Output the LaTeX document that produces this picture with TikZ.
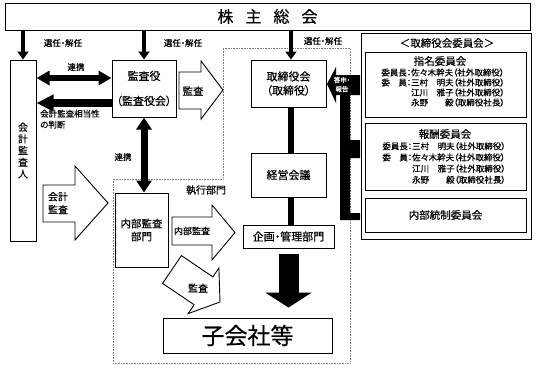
\documentclass[tikz,border=0pt]{standalone}
\usepackage{fontspec}
\setmainfont[RawFeature={+palt}, FakeBold=0.4]{Noto Sans CJK JP}
\usetikzlibrary{arrows.meta}
\begin{document}
\begin{tikzpicture}[x=1pt,y=-1pt,
  box/.style={draw, line width=1pt, fill=white, inner sep=0pt, align=center},
  lbl/.style={inner sep=0pt, align=center},
  small/.style={font=\fontsize{8.5}{11}\selectfont},
  mid/.style={font=\fontsize{10.5}{13}\selectfont},
  hollow/.style={draw, line width=0.9pt, fill=white, line join=miter},
  elect/.style={line width=3.5pt, -{Triangle[length=8pt,width=11pt]}},
  ]
\useasboundingbox (0,0) rectangle (538,368);
% dotted region
\draw[densely dotted, gray, line width=0.6pt] (223,48) -- (350,48) -- (350,363) -- (113,363) -- (113,179) -- (223,179) -- cycle;
% boxes
\node[box, minimum width=525pt, minimum height=27pt] (sh) at (267.5,16.5) {\fontsize{16}{16}\selectfont 株\hspace{12pt}主\hspace{12pt}総\hspace{12pt}会};
\node[box, minimum width=26pt, minimum height=181pt, font=\fontsize{10}{11.7}\selectfont] (kaikei) at (23,150.5) {会\\計\\監\\査\\人};
\node[box, minimum width=64pt, minimum height=57pt, font=\fontsize{11}{13}\selectfont] (kansayaku) at (144,88.5) {監査役\\[12pt]（監査役会）};
\node[box, minimum width=75pt, minimum height=47pt, font=\fontsize{11}{14}\selectfont] (tori) at (288.5,83.5) {取締役会\\（取締役）};
\node[box, minimum width=75pt, minimum height=44pt, font=\fontsize{11}{13}\selectfont] (keiei) at (288.5,175) {経営会議};
\node[box, minimum width=91pt, minimum height=23pt, font=\fontsize{11}{13}\selectfont] (kikaku) at (288.5,236.5) {企画・管理部門};
\node[box, minimum width=53pt, minimum height=74pt, font=\fontsize{10.5}{13}\selectfont] (naibu) at (141.5,230) {内部監査\\部門};
\node[box, minimum width=169pt, minimum height=35pt, font=\fontsize{23}{25}\selectfont] (kogaisha) at (247.5,335.5) {子会社等};
% committee panel
\node[box, minimum width=170pt, minimum height=206pt] (iinkai) at (446,136) {};
\node[lbl, font=\fontsize{10.5}{13}\selectfont] (iinkaititle) at (447,43) {＜取締役会委員会＞};
\node[box, minimum width=161pt, minimum height=65pt] (shimei) at (445.5,84.5) {};
\node[lbl, font=\fontsize{10.5}{13}\selectfont] (shimeititle) at (440,61) {指名委員会};
\node[lbl, align=left, font=\fontsize{8.5}{10}\selectfont] (shimeilist) at (443,87.5) {委員長：佐々木幹夫（社外取締役）\\委　員：三村　明夫（社外取締役）\\\hphantom{委員長：}江川　雅子（社外取締役）\\\hphantom{委員長：}永野　　毅（取締役社長）};
\node[box, minimum width=161pt, minimum height=67pt] (housyu) at (445.5,156.5) {};
\node[lbl, font=\fontsize{10.5}{13}\selectfont] (housyutitle) at (445,134) {報酬委員会};
\node[lbl, align=left, font=\fontsize{8.5}{11.2}\selectfont] (housyulist) at (444,163) {委員長：三村　明夫（社外取締役）\\委　員：佐々木幹夫（社外取締役）\\\hphantom{委員長：}江川　雅子（社外取締役）\\\hphantom{委員長：}永野　　毅（取締役社長）};
\node[box, minimum width=161pt, minimum height=34pt, font=\fontsize{10.5}{13}\selectfont] (naibutousei) at (445.5,215) {内部統制委員会};
% election arrows
\draw[elect] (kaikei.north |- sh.south) -- (kaikei.north);
\draw[elect] (kansayaku.north |- sh.south) -- (kansayaku.north);
\draw[elect] ([xshift=2.5pt]tori.north |- sh.south) -- ([xshift=2.5pt]tori.north);
\node[lbl, small] (sen1) at (63,43) {選任・解任};
\node[lbl, small] (sen2) at (183,43) {選任・解任};
\node[lbl, small] (sen3) at (323,41) {選任・解任};
% renkei horizontal
\draw[line width=6pt, {Triangle[length=13pt,width=14pt]}-{Triangle[length=13pt,width=14pt]}] (kaikei.east |- 0,78) -- (kansayaku.west |- 0,78);
\node[lbl, small] (renkei1) at (76,67) {連携};
% soutousei
\draw[line width=8pt, -{Triangle[length=17pt,width=16pt]}] (kansayaku.west |- 0,103) -- (kaikei.east |- 0,103);
\node[lbl, small, align=left, anchor=north west] (soutou) at (40,109.5) {会計監査相当性\\の判断};
% renkei vertical
\draw[line width=7pt, {Triangle[length=12pt,width=15pt]}-{Triangle[length=12pt,width=15pt]}] (kansayaku.south) -- (naibu.north -| kansayaku.south);
\node[lbl, small] (renkei2) at (123,157) {連携};
% hollow arrows
\draw[hollow] (179,72) -- (201,72) -- (201,61) -- (223,90) -- (201,119) -- (201,109) -- (179,109) -- cycle;
\node[lbl, font=\fontsize{10.5}{13}\selectfont] (kansa1) at (193,91) {監査};
\draw[hollow] (43,185) -- (75,185) -- (75,166) -- (108,203) -- (75,240) -- (75,222) -- (43,222) -- cycle;
\node[lbl, align=left, font=\fontsize{10}{13}\selectfont] (kansa2) at (58,203) {会計\\監査};
\draw[hollow] (172,217) -- (212,217) -- (212,205) -- (235,232.5) -- (212,260) -- (212,245) -- (172,245) -- cycle;
\node[lbl, font=\fontsize{9}{11}\selectfont] (kansa3) at (192,231) {内部監査};
\draw[hollow] (162.6,283.4) -- (181.4,255.6) -- (212.9,276.9) -- (218.9,268.0) -- (220,302) -- (188.1,313.6) -- (194.1,304.7) -- cycle;
\node[lbl, font=\fontsize{10}{13}\selectfont] (kansa4) at (198,288) {監査};
\node[lbl, font=\fontsize{10}{13}\selectfont] (shikkou) at (206,190) {執行部門};
% executive chain
\draw[line width=6pt] ([xshift=2.5pt]tori.south) -- ([xshift=2.5pt]keiei.north);
\draw[line width=6pt] ([xshift=2.5pt]keiei.south) -- ([xshift=2.5pt]kikaku.north);
\path (kogaisha.north -| kikaku.south) coordinate (kt);
\draw[line width=20pt, -{Triangle[length=15pt,width=46pt]}] ([yshift=-5pt]kikaku.south) -- ([yshift=10pt]kt);
% toushin bar
\fill (327,84) -- (336,67) -- (336,75) -- (360,75) -- (360,95) -- (350,95) -- (350,140) -- (360,140) -- (360,158) -- (350,158) -- (350,213) -- (360,213) -- (360,220) -- (340,220) -- (340,95) -- (336,95) -- (336,103) -- cycle;
\node[lbl, text=white, font=\fontsize{6.5}{9}\selectfont] (toushin) at (342,84.5) {答申・\\報告};
\end{tikzpicture}
\end{document}
